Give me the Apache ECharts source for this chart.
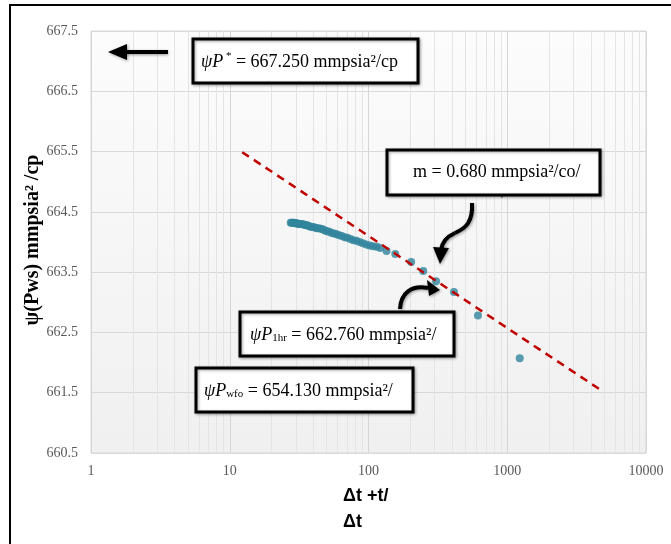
<!DOCTYPE html>
<html>
<head>
<meta charset="utf-8">
<script src="https://cdn.jsdelivr.net/npm/echarts@6/dist/echarts.min.js"></script>
<style>
html, body { margin: 0; padding: 0; background: #fff; }
#chart { width: 671px; height: 544px; }
</style>
</head>
<body>
<div id="chart"></div>
<script>
// Horner plot: (t + dt) / dt against pseudo pressure
const hornerTime = [27.5, 28, 28.5, 29, 29.5, 30, 30.6, 31.2, 31.8, 32.5, 33.2, 34, 34.8, 35.7,
    36.6, 37.6, 38.7, 39.8, 41, 42.3, 43.7, 45.2, 46.8, 48.5, 50.3, 52.2, 54.3, 56.5, 58.9,
    61.5, 64.3, 67.3, 70.5, 74, 77.8, 81.9, 86.3, 91, 96.2, 101.8, 107.8, 114.4, 121.5,
    135, 156, 203, 248, 307, 413, 615, 1230];
const psiPws = [664.32, 664.32, 664.32, 664.32, 664.31, 664.31, 664.31, 664.30, 664.30, 664.30,
    664.30, 664.29, 664.28, 664.28, 664.27, 664.26, 664.25, 664.25, 664.24, 664.23, 664.23,
    664.22, 664.21, 664.19, 664.18, 664.17, 664.15, 664.14, 664.13, 664.11, 664.10, 664.08,
    664.07, 664.05, 664.03, 664.02, 664.00, 663.98, 663.96, 663.94, 663.93, 663.92, 663.90,
    663.85, 663.80, 663.67, 663.52, 663.35, 663.17, 662.78, 662.07];
const trendX = [12.3, 4680];
const trendY = [665.49, 661.55];
const minorGridX = [2, 3, 4, 5, 6, 7, 8, 9, 20, 30, 40, 50, 60, 70, 80, 90,
    200, 300, 400, 500, 600, 700, 800, 900, 2000, 3000, 4000, 5000, 6000, 7000, 8000, 9000];
const yMin = 660.5, yMax = 667.5;

const chart = echarts.init(document.getElementById("chart"));

const serif = "Liberation Serif";
const boxText = {
    i: { fontStyle: "italic", fontSize: 18, fontFamily: serif, fill: "#000" },
    sup: { fontSize: 11, fontFamily: serif, fill: "#000", verticalAlign: "top", lineHeight: 22 },
    sub: { fontSize: 11, fontFamily: serif, fill: "#000", verticalAlign: "bottom", lineHeight: 18 },
};

function box(x, y, w, h) {
    return {
        type: "rect", shape: { x: x, y: y, width: w, height: h },
        style: { fill: "#fff", stroke: "#000", lineWidth: 3, shadowBlur: 3, shadowColor: "rgba(0,0,0,0.35)", shadowOffsetX: 1, shadowOffsetY: 1 },
        z: 10,
    };
}
function label(x, y, text) {
    return {
        type: "text", x: x, y: y, z: 11,
        style: { text: text, fontSize: 18, fontFamily: serif, fill: "#000", verticalAlign: "middle", rich: boxText },
    };
}
const arrowStyle = { stroke: "#000", lineWidth: 4, fill: null, shadowBlur: 3, shadowColor: "rgba(0,0,0,0.4)", shadowOffsetX: 1, shadowOffsetY: 1 };
const headStyle = { fill: "#000", shadowBlur: 3, shadowColor: "rgba(0,0,0,0.4)", shadowOffsetX: 1, shadowOffsetY: 1 };

const option = {
    animation: false,
    backgroundColor: "#fff",
    grid: {
        show: true,
        left: 91, right: 25, top: 31, bottom: 91,
        borderColor: "#d9d9d9", borderWidth: 1,
        backgroundColor: {
            type: "linear", x: 0, y: 0, x2: 0, y2: 1,
            colorStops: [{ offset: 0, color: "#fcfcfc" }, { offset: 1, color: "#f0f0f0" }],
        },
    },
    xAxis: {
        type: "log", logBase: 10, min: 1, max: 10000,
        axisLine: { show: false }, axisTick: { show: false },
        axisLabel: { color: "#595959", fontFamily: serif, fontSize: 14, margin: 11, formatter: v => String(v) },
        splitLine: { show: true, lineStyle: { color: "#d6d6d6", width: 1 } },
        minorTick: { show: false }, minorSplitLine: { show: false },
    },
    yAxis: {
        type: "value", min: yMin, max: yMax, interval: 0.5,
        axisLine: { show: false }, axisTick: { show: false },
        axisLabel: {
            color: "#595959", fontFamily: serif, fontSize: 14, margin: 13,
            formatter: function (v) { return Number.isInteger(v) ? "" : v.toFixed(1); },
        },
        splitLine: { show: true, lineStyle: { color: ["#d9d9d9", "rgba(0,0,0,0)"], width: 1 } },
    },
    series: [
        {
            name: "grid-minor", type: "line", data: [[1, yMin]], symbol: "none", silent: true, z: 0,
            lineStyle: { opacity: 0 },
            markLine: {
                z: 1, silent: true, symbol: "none", label: { show: false },
                lineStyle: { color: "#e4e4e4", type: "solid", width: 1 },
                emphasis: { disabled: true },
                data: minorGridX.map(v => ({ xAxis: v })),
            },
        },
        {
            name: "Horner", type: "scatter", symbolSize: 8, z: 3,
            itemStyle: { color: "#31859c" },
            data: hornerTime.map((t, i) => [t, psiPws[i]]),
        },
        {
            name: "trend", type: "line", symbol: "none", z: 4,
            lineStyle: { color: "#c00000", width: 2.5, type: [8, 6] },
            data: trendX.map((t, i) => [t, trendY[i]]),
        },
    ],
    graphic: [
        // frame
        { type: "rect", shape: { x: 10, y: 5, width: 700, height: 600 }, style: { fill: null, stroke: "#000", lineWidth: 2 }, z: 20 },
        // axis titles
        {
            type: "text", x: 33, y: 240, rotation: Math.PI / 2, z: 11,
            style: { text: "ψ(Pws) mmpsia² /cp", fontSize: 20, fontWeight: "bold", fontFamily: serif, fill: "#000", align: "center", verticalAlign: "middle" },
        },
        { type: "text", x: 343, y: 496, z: 11, style: { text: "Δt +t/", fontSize: 18, fontWeight: "bold", fontFamily: "Liberation Sans", fill: "#000", verticalAlign: "middle" } },
        { type: "text", x: 343, y: 522, z: 11, style: { text: "Δt", fontSize: 18, fontWeight: "bold", fontFamily: "Liberation Sans", fill: "#000", verticalAlign: "middle" } },
        // left arrow
        { type: "line", shape: { x1: 168, y1: 52, x2: 122, y2: 52 }, style: { stroke: "#000", lineWidth: 4, shadowBlur: 3, shadowColor: "rgba(0,0,0,0.4)", shadowOffsetY: 1 }, z: 10 },
        { type: "polygon", shape: { points: [[108, 52], [127, 44], [127, 60]] }, style: headStyle, z: 10 },
        // boxes
        box(193, 39, 225, 44),
        label(201, 62, "{i|ψP}{sup| *} = 667.250 mmpsia²/cp"),
        box(387, 150, 213, 45),
        label(413, 172, "m = 0.680 mmpsia²/co/"),
        { type: "text", x: 500, y: 186, z: 11, style: { text: "ˌ", fontSize: 12, fontFamily: serif, fill: "#000" } },
        box(240, 312, 214, 44),
        label(250, 335, "{i|ψP}{sub|1hr} = 662.760 mmpsia²/"),
        box(196, 368, 217, 44),
        label(204, 391, "{i|ψP}{sub|wfo} = 654.130 mmpsia²/"),
        // curved arrow from slope box
        { type: "bezierCurve", shape: { x1: 472, y1: 203, cpx1: 473, cpy1: 222, cpx2: 466, cpy2: 228, x2: 455, y2: 233 }, style: arrowStyle, z: 10 },
        { type: "bezierCurve", shape: { x1: 455, y1: 233, cpx1: 446, cpy1: 237, cpx2: 442, cpy2: 242, x2: 441, y2: 250 }, style: arrowStyle, z: 10 },
        { type: "polygon", shape: { points: [[433, 247], [449, 248], [440, 264]] }, style: headStyle, z: 10 },
        // curved arrow to 1 hr point
        { type: "bezierCurve", shape: { x1: 400, y1: 309, cpx1: 401, cpy1: 293, cpx2: 411, cpy2: 285, x2: 428, y2: 288 }, style: arrowStyle, z: 10 },
        { type: "polygon", shape: { points: [[427, 280], [429, 296], [440, 290]] }, style: headStyle, z: 10 },
    ],
};

chart.setOption(option);
</script>
</body>
</html>
